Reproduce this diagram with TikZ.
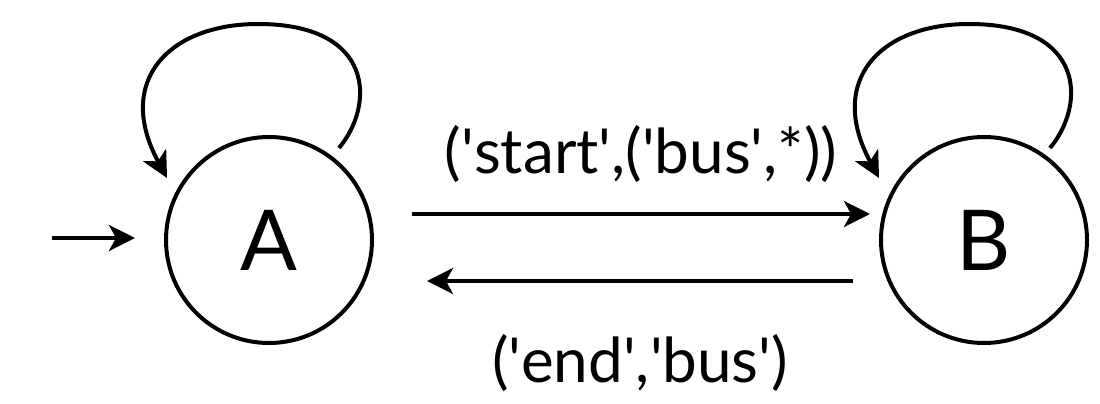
\documentclass[tikz,border=0pt]{standalone}
\usepackage{fontspec}
\setmainfont{Lato}
\usetikzlibrary{arrows.meta,calc}
\newcommand\sq{\textquotesingle}
\begin{document}
\begin{tikzpicture}[x=1pt,y=-1pt,
  state/.style={circle,draw,line width=4pt,minimum size=206pt,inner sep=0pt,font=\fontsize{84}{84}\selectfont},
  arr/.style={line width=4pt,-{Stealth[length=26pt,width=26pt,inset=7pt]}},
  lbl/.style={font=\fontsize{62}{62}\selectfont,anchor=base}]
\useasboundingbox (0,0) rectangle (1100,404);
\node[state] (A) at (269,240) {A};
\node[state] (B) at (984,240) {B};
\coordinate (init) at (52,238);
\draw[arr] (init) -- ([xshift=-29pt,yshift=2pt]A.west);
% transitions
\draw[arr] ([xshift=38pt,yshift=26pt]A.east) -- node[lbl,yshift=41pt] {(\sq start\sq,(\sq bus\sq,*))} ([xshift=-9pt,yshift=26pt]B.west);
\draw[arr] ([xshift=-26pt,yshift=-41pt]B.west) -- node[lbl,yshift=-101pt] {(\sq end\sq,\sq bus\sq)} ([xshift=53pt,yshift=-41pt]A.east);
% self loops
\draw[arr] ($(A)+(70,-92)$) .. controls ($(A)+(106,-135)$) and ($(A)+(106,-216)$) .. ($(A)+(-11,-216)$)
  .. controls ($(A)+(-99,-216)$) and ($(A)+(-155,-160)$) .. ($(A)+(-102,-62)$);
\draw[arr] ($(B)+(66,-92)$) .. controls ($(B)+(102,-135)$) and ($(B)+(102,-216)$) .. ($(B)+(-15,-216)$)
  .. controls ($(B)+(-103,-216)$) and ($(B)+(-158,-160)$) .. ($(B)+(-105,-62)$);
\end{tikzpicture}
\end{document}
